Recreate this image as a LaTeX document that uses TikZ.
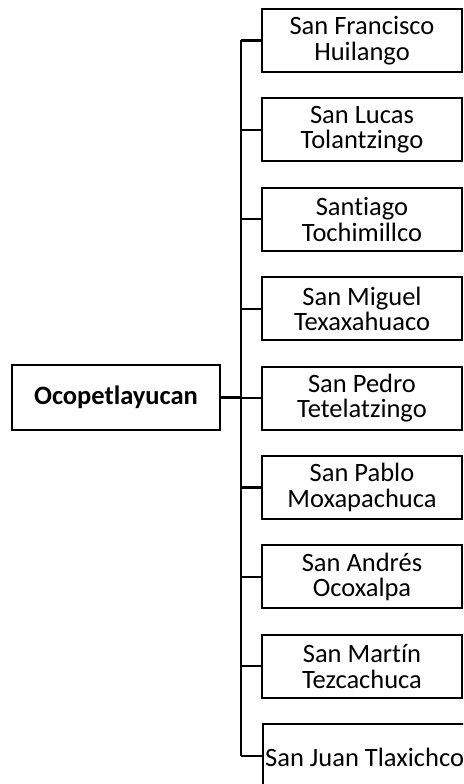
\documentclass[tikz,border=0pt]{standalone}
\usepackage{fontspec}
\setmainfont{Carlito}[Ligatures=NoCommon]
\begin{document}
\begin{tikzpicture}[x=1pt,y=-1pt,
  box/.style={draw=black,line width=2pt,minimum width=200pt,minimum height=63pt,align=center,inner sep=0pt,font=\fontsize{26.5}{25.5}\selectfont},
  mainbox/.style={draw=black,line width=2pt,minimum width=208pt,minimum height=65pt,align=center,inner sep=0pt,font=\fontsize{26.5}{25.5}\selectfont\bfseries},
  conn/.style={line width=2.2pt}]
\useasboundingbox (0,0) rectangle (463,784);
\clip (0,0) rectangle (463,784);
\fill[white] (0,0) rectangle (463,784);
\node[mainbox] (m) at (116,397.5) {Ocopetlayucan};
\node[box] (c1) at (362,40.5) {San Francisco\\Huilango};
\node[box] (c2) at (362,129.9) {San Lucas\\Tolantzingo};
\node[box] (c3) at (362,219.3) {Santiago\\Tochimillco};
\node[box] (c4) at (362,308.7) {San Miguel\\Texaxahuaco};
\node[box] (c5) at (362,398.1) {San Pedro\\Tetelatzingo};
\node[box] (c6) at (362,487.5) {San Pablo\\Moxapachuca};
\node[box] (c7) at (362,576.9) {San Andrés\\Ocoxalpa};
\node[box] (c8) at (362,666.3) {San Martín\\Tezcachuca};
\node[box,minimum width=240pt,anchor=west] (c9) at (262,755.7) {};
\node[anchor=west,inner sep=0pt,font=\fontsize{26.5}{25.5}\selectfont] (t9) at (265,757) {San Juan Tlaxichco};
\coordinate (stop) at (241,40.5);
\coordinate (sbot) at (241,755.7);
\draw[conn] (stop) -- (sbot);
\draw[conn] (m.east) -- (241,397.5);
\foreach \i in {1,...,9} {
  \draw[conn] (c\i.west) -- (241,0 |- c\i.west);
}
\end{tikzpicture}
\end{document}
